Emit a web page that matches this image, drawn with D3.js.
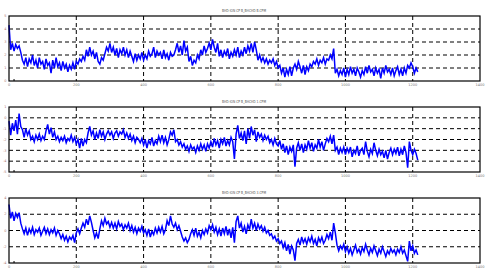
<!DOCTYPE html>
<html lang="en">
<head>
<meta charset="utf-8">
<title>Three traces</title>
<script src="https://d3js.org/d3.v7.min.js"></script>
<style>
  body { margin: 0; background: #fff; }
  text { font-family: "DejaVu Sans", sans-serif; }
</style>
</head>
<body>
<script>
// sample step along x (values read every 5 units)
const step = 5;

// panel titles
const titles = ["BHD-ION CP B_BHCHD B.CPM", "BHD-ION CP B_BHCHD 1.CPM", "BHD-ION CP B_BHCHD 3.CPM"];

// x ticks
const xTicks = [0, 200, 400, 600, 800, 1000, 1200, 1400];
const xGrid = [200, 400, 600, 800, 1000, 1200];

// y domains / ticks / grid per panel
const yDomains = [[0, 5], [-5, 1], [-4, 4]];
const yTicks = [[0, 1, 2, 3, 4, 5], [-5, -4, -3, -2, -1, 0, 1], [-4, -2, 0, 2, 4]];
const yGrid = [[1, 2, 3, 4], [-4, -3, -2, -1, 0], [-2, 0, 2]];

const series1 = [
  4.3, 2.4, 2.9, 2.3, 2.8, 2.5, 2.7, 2.2, 1.6, 1.3,
  1.8, 1.1, 1.7, 1.4, 2.0, 1.2, 1.6, 1.0, 1.8, 1.3,
  1.5, 0.9, 1.7, 1.2, 1.4, 0.6, 1.6, 1.0, 1.8, 1.1,
  1.4, 0.8, 1.5, 1.0, 1.3, 0.7, 1.2, 0.9, 1.4, 0.9,
  1.5, 1.3, 1.7, 1.5, 1.9, 1.6, 2.4, 1.9, 2.6, 2.0,
  2.3, 1.7, 2.2, 1.5, 1.3, 1.8, 1.6, 2.1, 2.6, 2.3,
  2.9, 2.2, 2.6, 2.0, 2.5, 1.8, 2.4, 2.1, 2.6, 2.0,
  2.4, 1.8, 2.3, 1.9, 1.5, 2.1, 1.6, 2.0, 1.7, 2.2,
  1.6, 2.0, 1.7, 2.3, 1.9, 2.1, 2.6, 1.8, 2.3, 2.0,
  2.2, 1.7, 2.4, 1.8, 2.1, 1.6, 2.2, 1.9, 2.0, 2.4,
  2.9, 2.2, 2.7, 2.0, 3.1, 2.3, 2.6, 1.5, 1.9, 1.2,
  1.6, 1.4, 2.0, 1.7, 2.4, 2.0, 2.7, 2.2, 2.5, 2.9,
  2.4, 3.2, 2.6, 2.2, 2.9, 1.9, 2.4, 1.8, 2.3, 2.0,
  2.5, 1.7, 2.2, 1.9, 2.4, 2.0, 2.6, 1.8, 2.3, 2.0,
  2.6, 2.1, 2.7, 2.3, 2.9, 2.2, 3.0, 2.4, 1.6, 2.0,
  1.5, 1.8, 1.4, 1.7, 1.3, 1.6, 1.4, 1.7, 1.2, 1.5,
  1.0, 1.2, 0.6, 1.0, 0.3, 0.9, 0.5, 1.1, 0.4, 1.0,
  1.3, 0.9, 1.5, 1.1, 0.6, 1.2, 0.5, 1.1, 0.8, 1.3,
  1.1, 1.5, 1.3, 1.7, 1.2, 1.6, 1.4, 1.8, 1.3, 1.7,
  1.6, 2.0, 1.7, 2.5, 0.6, 0.9, 0.4, 0.8, 0.5, 1.0,
  0.3, 0.9, 0.5, 1.1, 0.6, 0.9, 0.4, 1.0, 0.7, 0.3,
  0.8, 0.5, 1.1, 0.6, 1.2, 0.7, 0.9, 0.4, 1.0, 0.6,
  0.9, 0.2, 1.0, 0.6, 1.2, 0.7, 0.9, 0.5, 1.0, 0.4,
  0.8, 1.1, 0.5, 0.9, 0.4, 1.0, 0.6, 1.2, 1.0, 1.4,
  1.1, 0.6, 1.0, 0.7
];

const series2 = [
  -0.3, -1.6, -0.5, -1.2, -0.2, -1.5, 0.4, -0.8, -1.1, -1.8,
  -1.0, -1.6, -1.2, -2.0, -1.7, -2.2, -1.6, -2.0, -1.5, -2.1,
  -1.7, -2.0, -1.2, -0.6, -1.5, -0.9, -1.8, -1.3, -2.0, -1.7,
  -2.2, -1.8, -2.1, -1.7, -2.3, -1.9, -2.1, -1.6, -2.2, -1.8,
  -2.4, -2.0, -2.8, -1.9, -2.6, -2.0, -2.3, -1.4, -0.8, -1.6,
  -1.2, -2.0, -1.4, -1.9, -1.1, -1.7, -1.3, -2.0, -1.5, -1.2,
  -1.6, -1.3, -1.9, -1.4, -1.2, -1.7, -1.3, -1.5, -1.1, -1.8,
  -1.4, -1.9, -1.5, -2.1, -1.7, -2.3, -1.8, -2.0, -2.3, -1.9,
  -2.5, -2.0, -2.8, -2.1, -2.4, -1.8, -2.6, -2.1, -2.4, -1.7,
  -2.2, -1.6, -2.3, -1.8, -2.5, -2.0, -1.3, -1.6, -1.1, -2.2,
  -2.0, -2.5, -2.2, -2.7, -2.4, -2.9, -2.6, -3.1, -2.5, -2.9,
  -2.7, -3.2, -2.6, -3.0, -2.4, -2.9, -2.5, -3.1, -2.4, -2.8,
  -2.2, -2.7, -1.9, -2.5, -2.1, -2.8, -2.0, -2.4, -1.8, -2.6,
  -2.1, -2.5, -1.8, -2.2, -3.8, -1.5, -0.7, -1.9, -1.4, -2.1,
  -1.2, -2.4, -1.0, -1.9, -0.8, -1.6, -1.1, -2.2, -1.3, -1.8,
  -1.5, -2.1, -1.6, -2.0, -1.7, -2.3, -2.0, -2.5, -1.9, -2.4,
  -2.6, -2.1, -2.9, -2.4, -3.2, -2.6, -3.4, -2.7, -3.1, -2.5,
  -4.5, -2.8, -2.3, -3.0, -2.4, -3.2, -2.5, -2.9, -2.1, -2.8,
  -2.3, -3.1, -2.5, -2.8, -2.0, -2.7, -2.2, -3.0, -2.4, -1.9,
  -2.2, -1.7, -2.4, -1.6, -3.0, -2.7, -3.4, -2.8, -3.2, -2.7,
  -3.4, -2.8, -3.2, -2.7, -3.6, -3.0, -3.3, -2.6, -3.5, -3.0,
  -2.8, -3.4, -2.2, -3.1, -3.6, -2.9, -3.3, -2.3, -3.0, -3.5,
  -2.9, -3.4, -3.1, -3.7, -3.0, -3.8, -3.2, -2.8, -3.4, -2.9,
  -3.3, -2.7, -3.5, -2.9, -3.4, -2.6, -3.2, -4.6, -2.2, -3.0,
  -3.4, -2.9, -3.3, -3.9
];

const series3 = [
  3.2, 1.5, 2.3, 1.2, 2.1, 1.6, 2.2, 0.9, 0.2, -0.4,
  0.3, -0.6, 0.2, -0.3, 0.4, -0.5, 0.1, -0.2, 0.3, -0.6,
  -0.1, 0.4, -0.4, 0.2, -0.5, 0.1, -0.3, 0.3, -0.6, 0.0,
  -0.4, -1.0, -0.5, -1.2, -0.7, -1.4, -0.8, -1.1, -0.6, -1.5,
  -0.3, 0.2, -0.4, 0.3, 0.9, 0.4, 1.4, 0.7, 1.8, 1.0,
  0.0, -0.9, -0.3, -1.0, 0.2, 1.2, 0.6, 1.5, 0.8, 1.1,
  0.4, 1.0, 0.3, 0.9, 0.2, 1.1, 0.5, 0.8, 0.1, 0.7,
  0.3, 0.9, 0.0, 0.6, -0.2, 0.4, -0.4, 0.3, -0.1, 0.5,
  -0.3, 0.1, -0.6, 0.2, -0.8, -0.1, -0.5, 0.3, -0.3, 0.4,
  -0.2, 0.5, -0.4, 0.1, 1.2, 0.6, 1.8, 0.8, 0.4, 0.9,
  0.1, 0.6, -0.1, -0.8, -1.3, -0.9, -1.5, -1.1, -0.4, 0.1,
  -0.6, 0.3, -0.7, -0.2, -0.9, 0.0, -0.5, 0.2, -0.3, 0.6,
  0.1, 0.7, -0.2, 0.4, -0.5, 0.2, -0.7, 0.3, -0.4, 0.5,
  -0.6, 0.2, -0.9, 0.4, -1.5, 1.1, 1.8, 0.3, 0.9, -0.2,
  0.5, -0.4, 0.7, 0.1, 1.4, 0.3, 0.9, 0.0, 0.8, 0.2,
  0.6, -0.1, 0.4, -0.3, 0.0, -0.6, -0.4, -1.0, -0.7, -1.3,
  -1.0, -1.6, -1.3, -2.1, -1.5, -2.5, -1.7, -2.9, -1.9, -2.4,
  -3.7, -1.6, -1.1, -1.8, -0.8, -1.5, -1.0, -1.7, -0.9, -1.4,
  -0.7, -1.6, -1.1, -1.9, -0.9, -1.4, -0.8, -1.6, -1.2, -0.5,
  -1.0, -0.2, -1.2, 0.9, -0.3, -1.8, -2.5, -1.9, -2.3, -1.7,
  -2.6, -2.0, -2.8, -2.2, -3.0, -2.4, -1.8, -2.7, -2.3, -2.9,
  -2.1, -2.6, -1.7, -2.4, -3.0, -2.2, -2.7, -1.9, -2.5, -3.1,
  -2.3, -2.8, -2.0, -2.6, -3.2, -2.5, -2.9, -2.2, -2.7, -2.4,
  -3.0, -2.3, -2.7, -2.0, -2.8, -2.4, -3.1, -3.8, -1.3, -2.5,
  -1.9, -2.8, -2.4, -3.0
];

const allSeries = [series1, series2, series3];

// layout
const width = 498, height = 277;
const left = 9, right = 480;
const panelTops = [16, 107, 198];
const panelH = 65;

const svg = d3.select("body").append("svg")
  .attr("width", width)
  .attr("height", height);

const x = d3.scaleLinear().domain([0, 1400]).range([left, right]);

allSeries.forEach((data, i) => {
  const top = panelTops[i], bottom = top + panelH;
  const y = d3.scaleLinear().domain(yDomains[i]).range([bottom, top]);
  const g = svg.append("g");

  // title
  g.append("text")
    .attr("x", 244).attr("y", top - 4)
    .attr("text-anchor", "middle")
    .attr("font-size", 4)
    .attr("textLength", 44)
    .attr("lengthAdjust", "spacingAndGlyphs")
    .attr("fill", "#555")
    .text(titles[i]);

  // dashed grid
  g.selectAll(".vg").data(xGrid).join("line")
    .attr("x1", d => x(d)).attr("x2", d => x(d))
    .attr("y1", top).attr("y2", bottom)
    .attr("stroke", "#000").attr("stroke-width", 1)
    .attr("stroke-dasharray", "4,3");
  g.selectAll(".hg").data(yGrid[i]).join("line")
    .attr("x1", left).attr("x2", right)
    .attr("y1", d => y(d)).attr("y2", d => y(d))
    .attr("stroke", "#000").attr("stroke-width", 1)
    .attr("stroke-dasharray", "4,3");

  // trace
  const line = d3.line()
    .x((d, j) => x(j * step))
    .y(d => y(d));
  g.append("path")
    .datum(data)
    .attr("d", line)
    .attr("fill", "none")
    .attr("stroke", "#0000ff")
    .attr("stroke-width", 1.5)
    .attr("stroke-linejoin", "miter");

  // frame
  g.append("rect")
    .attr("x", left).attr("y", top)
    .attr("width", right - left).attr("height", panelH)
    .attr("fill", "none")
    .attr("stroke", "#000").attr("stroke-width", 1.2);

  // small tick near origin
  g.append("line")
    .attr("x1", x(15)).attr("x2", x(15))
    .attr("y1", bottom).attr("y2", bottom - 2)
    .attr("stroke", "#000").attr("stroke-width", 1);

  // x labels
  g.selectAll(".xl").data(xTicks).join("text")
    .attr("x", d => x(d)).attr("y", bottom + 4.5)
    .attr("text-anchor", "middle")
    .attr("font-size", 3.5)
    .attr("fill", "#777")
    .text(d => d);

  // y labels
  g.selectAll(".yl").data(yTicks[i]).join("text")
    .attr("x", left - 2.5).attr("y", d => y(d) + 1.2)
    .attr("text-anchor", "end")
    .attr("font-size", 3.5)
    .attr("fill", "#a77")
    .text(d => d);
});
</script>
</body>
</html>
